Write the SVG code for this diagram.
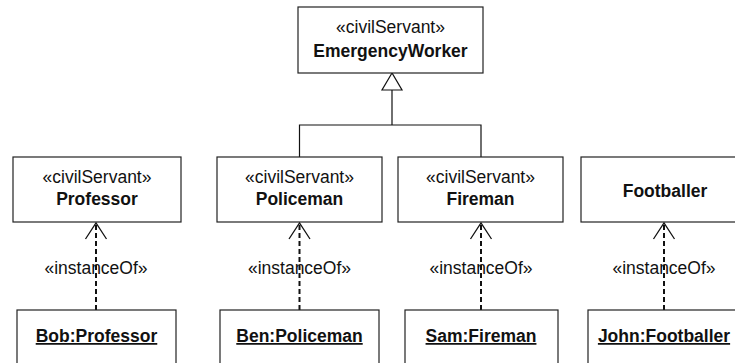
<svg xmlns="http://www.w3.org/2000/svg" width="735" height="363" viewBox="0 0 735 363">
<style>
  .box { fill: #ffffff; stroke: #222222; stroke-width: 1.2; }
  .st { font-family: "Liberation Sans", Arial, sans-serif; font-size: 17.5px; fill: #111111; text-anchor: middle; }
  .nm { font-family: "Liberation Sans", Arial, sans-serif; font-size: 17.5px; font-weight: bold; fill: #111111; text-anchor: middle; }
  .inst { text-decoration: underline; }
  .solid { fill: none; stroke: #111111; stroke-width: 1.2; }
  .dash { fill: none; stroke: #111111; stroke-width: 2; stroke-dasharray: 5 3; }
  .head { fill: none; stroke: #111111; stroke-width: 1.3; }
</style>
<rect width="735" height="363" fill="#ffffff"/>

<g id="connectors">
  <path class="solid" d="M299.5,157 V125 H481 V157 M392,125 V90"/>
  <polygon points="392,73 382,90 402,90" fill="#ffffff" stroke="#111111" stroke-width="1.2"/>
  <g id="inst-bob">
    <line class="dash" x1="96" y1="310" x2="96" y2="223"/>
    <path class="head" d="M85.5,239 L96,223 L106.5,239"/>
    <text class="st" x="96" y="274">«instanceOf»</text>
  </g>
  <g id="inst-ben">
    <line class="dash" x1="299.5" y1="310" x2="299.5" y2="223"/>
    <path class="head" d="M289,239 L299.5,223 L310,239"/>
    <text class="st" x="299.5" y="274">«instanceOf»</text>
  </g>
  <g id="inst-sam">
    <line class="dash" x1="481" y1="310" x2="481" y2="223"/>
    <path class="head" d="M470.5,239 L481,223 L491.5,239"/>
    <text class="st" x="481" y="274">«instanceOf»</text>
  </g>
  <g id="inst-john">
    <line class="dash" x1="664" y1="310" x2="664" y2="223"/>
    <path class="head" d="M653.5,239 L664,223 L674.5,239"/>
    <text class="st" x="664" y="274">«instanceOf»</text>
  </g>
</g>

<g id="EmergencyWorker">
  <rect class="box" x="298" y="7" width="185" height="66"/>
  <text class="st" x="390.5" y="33">«civilServant»</text>
  <text class="nm" x="390.5" y="57">EmergencyWorker</text>
</g>

<g id="Professor">
  <rect class="box" x="13" y="157" width="168" height="65"/>
  <text class="st" x="97" y="183">«civilServant»</text>
  <text class="nm" x="97" y="205">Professor</text>
</g>

<g id="Policeman">
  <rect class="box" x="217" y="157" width="165" height="65"/>
  <text class="st" x="299.5" y="183">«civilServant»</text>
  <text class="nm" x="299.5" y="205">Policeman</text>
</g>

<g id="Fireman">
  <rect class="box" x="398" y="157" width="165" height="65"/>
  <text class="st" x="480.5" y="183">«civilServant»</text>
  <text class="nm" x="480.5" y="205">Fireman</text>
</g>

<g id="Footballer">
  <rect class="box" x="581" y="157" width="170" height="65"/>
  <text class="nm" x="665" y="197">Footballer</text>
</g>

<g id="BobProfessor">
  <rect class="box" x="17" y="310" width="159" height="70"/>
  <text class="nm inst" x="96.5" y="342">Bob:Professor</text>
</g>

<g id="BenPoliceman">
  <rect class="box" x="220" y="310" width="159" height="70"/>
  <text class="nm inst" x="299.5" y="342">Ben:Policeman</text>
</g>

<g id="SamFireman">
  <rect class="box" x="405" y="310" width="153" height="70"/>
  <text class="nm inst" x="481" y="342">Sam:Fireman</text>
</g>

<g id="JohnFootballer">
  <rect class="box" x="588" y="310" width="160" height="70"/>
  <text class="nm inst" x="664" y="342">John:Footballer</text>
</g>
</svg>
